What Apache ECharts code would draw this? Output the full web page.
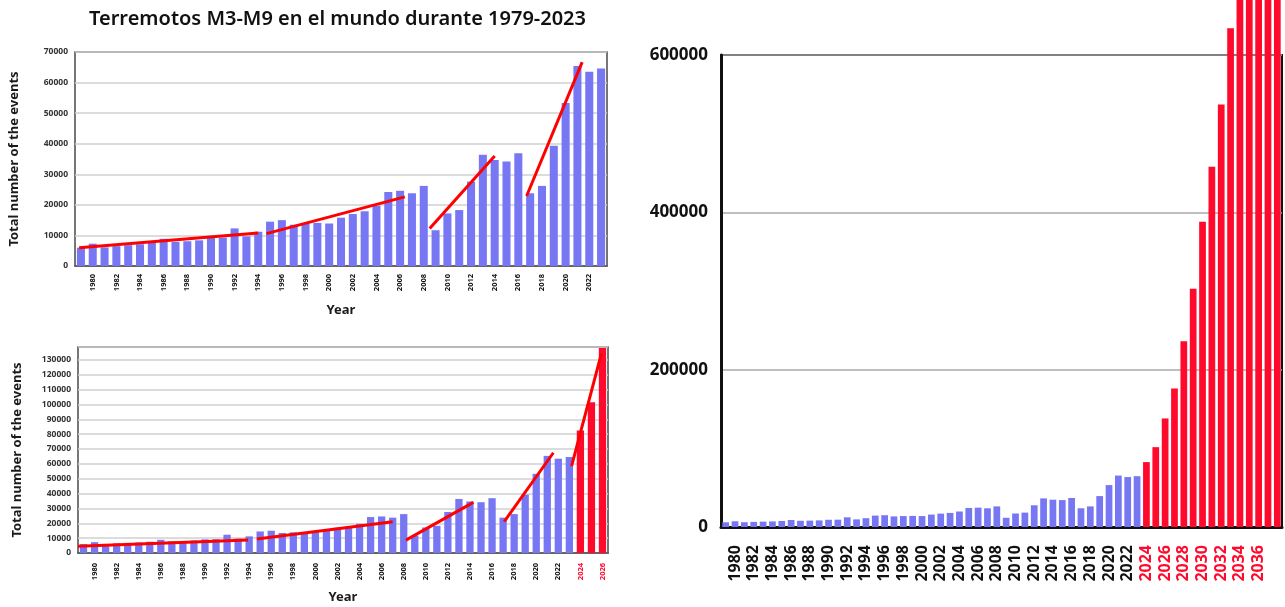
<!DOCTYPE html>
<html>
<head>
<meta charset="utf-8">
<title>Terremotos M3-M9 en el mundo</title>
<script src="https://cdn.jsdelivr.net/npm/echarts@6/dist/echarts.min.js"></script>
<style>
  html, body { margin: 0; padding: 0; background: #ffffff; }
  #chart { width: 1285px; height: 607px; }
</style>
</head>
<body>
<div id="chart"></div>
<script>
// Yearly counts of M3-M9 earthquakes worldwide, 1979-2023
const observed = [
  6000, 7300, 6100, 6500, 6800, 7100, 7600, 8900, 7900, 8100,
  8400, 9200, 9300, 12300, 9700, 11200, 14500, 15000, 13500, 13900,
  14100, 13900, 15800, 17000, 17900, 19700, 24200, 24600, 23800, 26200,
  11700, 17200, 18300, 27600, 36400, 34700, 34200, 36900, 23800, 26200,
  39300, 53300, 65400, 63500, 64600
];

// Projected counts, 2024-2038
const projected = [
  82500, 101500, 138000, 176000, 236000, 303000, 388000, 458000,
  537000, 634000, 760000, 905000, 1075000, 1280000, 1520000
];

// Trend segments drawn over the bars: [year, count] end points
const trendsTop = [
  [[1978.85, 6000], [1994.0, 10800]],
  [[1994.7, 10600], [2006.4, 22600]],
  [[2008.5, 12300], [2014.0, 36000]],
  [[2016.7, 22900], [2021.4, 66700]]
];
const trendsBottom = [
  [[1978.5, 4500], [1993.9, 8700]],
  [[1994.7, 9400], [2007.0, 21100]],
  [[2008.2, 8700], [2014.3, 34100]],
  [[2017.1, 21100], [2021.55, 67500]],
  [[2023.2, 58500], [2025.9, 134300]]
];

function yearRange(from, to) {
  const out = [];
  for (let y = from; y <= to; y++) out.push(String(y));
  return out;
}
const yearsTop = yearRange(1979, 2023);
const yearsBottom = yearRange(1979, 2026);
const yearsRight = yearRange(1979, 2038);

const valuesTop = observed.slice();
const valuesBottom = observed.concat(projected.slice(0, 3));
const valuesRight = observed.concat(projected);

const FONT = 'Noto Sans';
const BLUE = '#7777f4';
const RED = '#ff0a2d';
const LINE_RED = '#ff0000';
const FIRST_PROJECTED = 2024;

const barColor = p => (+p.name >= FIRST_PROJECTED ? RED : BLUE);
const labelColor = v => (+v >= FIRST_PROJECTED ? RED : '#111111');
const plainNumber = v => String(v);

function smallYearAxis(gridIndex, data, margin) {
  return {
    type: 'category', gridIndex, data,
    axisTick: { show: false },
    axisLine: { lineStyle: { color: '#4a4a4a', width: 1.5 } },
    axisLabel: {
      rotate: 90, fontSize: 7.5, fontWeight: 'bold', fontFamily: FONT,
      margin, color: labelColor,
      interval: i => i % 2 === 1
    },
    name: 'Year', nameLocation: 'middle', nameGap: 38,
    nameTextStyle: { fontSize: 13, fontWeight: 'bold', fontFamily: FONT, color: '#1a1a1a' }
  };
}

function smallCountAxis(gridIndex, max) {
  return {
    type: 'value', gridIndex, min: 0, max, interval: 10000,
    axisLine: { show: false }, axisTick: { show: false },
    axisLabel: {
      fontSize: 8.5, fontWeight: 'bold', fontFamily: FONT, color: '#333333', margin: 7,
      formatter: plainNumber, showMaxLabel: max % 10000 === 0
    },
    splitLine: { lineStyle: { color: '#d0d0d0', width: 1.5 } },
    name: 'Total number of the events', nameLocation: 'middle', nameGap: 54,
    nameTextStyle: { fontSize: 13, fontWeight: 'bold', fontFamily: FONT, color: '#1a1a1a' }
  };
}

function trendSeries(segments, xAxisIndex, yAxisIndex) {
  return segments.map(seg => ({
    type: 'line', xAxisIndex, yAxisIndex, data: seg,
    symbol: 'none', silent: true, z: 5,
    lineStyle: { color: LINE_RED, width: 3 }
  }));
}

const chart = echarts.init(document.getElementById('chart'), null, { renderer: 'canvas' });

chart.setOption({
  backgroundColor: '#ffffff',
  animation: false,
  title: {
    text: 'Terremotos M3-M9 en el mundo durante 1979-2023',
    left: 84, top: 4,
    textStyle: { fontSize: 20, fontWeight: 600, fontFamily: FONT, color: '#111111' }
  },
  grid: [
    { left: 75, top: 52, width: 532, height: 214, show: true, borderColor: '#4a4a4a', borderWidth: 1.5 },
    { left: 78, top: 347, width: 530, height: 206, show: true, borderColor: '#4a4a4a', borderWidth: 1.5 },
    { left: 721, top: 55, width: 561, height: 472, show: true, borderColor: '#111111', borderWidth: 2 }
  ],
  xAxis: [
    smallYearAxis(0, yearsTop, 8),
    smallYearAxis(1, yearsBottom, 10),
    {
      type: 'category', gridIndex: 2, data: yearsRight,
      axisTick: { show: false },
      axisLine: { lineStyle: { color: '#111111', width: 3 } },
      axisLabel: {
        rotate: 90, fontSize: 16, fontWeight: 'bold', fontFamily: FONT,
        margin: 18, color: labelColor,
        interval: i => i % 2 === 1 && i < yearsRight.length - 1
      }
    },
    { type: 'value', gridIndex: 0, min: 1978.5, max: 2023.5, show: false },
    { type: 'value', gridIndex: 1, min: 1978.5, max: 2026.5, show: false }
  ],
  yAxis: [
    smallCountAxis(0, 70000),
    smallCountAxis(1, 138700),
    {
      type: 'value', gridIndex: 2, min: 0, max: 600000, interval: 200000,
      axisLine: { show: true, lineStyle: { color: '#111111', width: 3 } },
      axisTick: { show: false },
      axisLabel: {
        fontSize: 17, fontWeight: 'bold', fontFamily: FONT, color: '#111111', margin: 13,
        formatter: plainNumber
      },
      splitLine: { lineStyle: { color: '#a8a8a8', width: 1.5 } }
    }
  ],
  series: [
    {
      type: 'bar', xAxisIndex: 0, yAxisIndex: 0, data: valuesTop,
      barCategoryGap: '32%', itemStyle: { color: barColor }
    },
    {
      type: 'bar', xAxisIndex: 1, yAxisIndex: 1, data: valuesBottom,
      barCategoryGap: '34%', itemStyle: { color: barColor }
    },
    {
      type: 'bar', xAxisIndex: 2, yAxisIndex: 2, data: valuesRight,
      barCategoryGap: '28%', clip: false, itemStyle: { color: barColor }
    },
    ...trendSeries(trendsTop, 3, 0),
    ...trendSeries(trendsBottom, 4, 1)
  ]
});
</script>
</body>
</html>
